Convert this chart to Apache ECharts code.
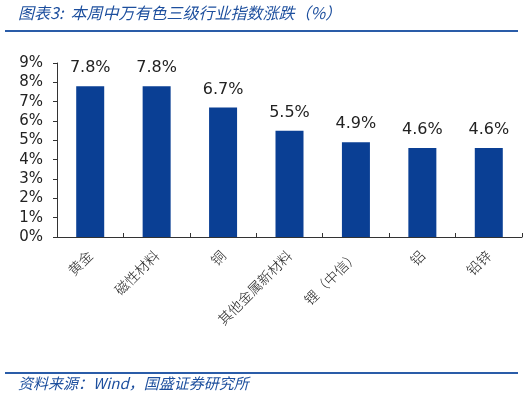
<!DOCTYPE html>
<html>
<head>
<meta charset="utf-8">
<script src="https://cdn.jsdelivr.net/npm/echarts@6/dist/echarts.min.js"></script>
<style>
  html, body { margin: 0; padding: 0; background: #fff; }
  #chart { width: 526px; height: 398px; }
</style>
</head>
<body>
<div id="chart"></div>
<script>
// 行业名称
var categories = ['黄金', '磁性材料', '铜', '其他金属新材料', '锂（中信）', '铝', '铅锌']
// 涨跌幅 %
var values = [7.8, 7.8, 6.7, 5.5, 4.9, 4.6, 4.6]
var titleText = '图表3:  本周中万有色三级行业指数涨跌（%）'
var sourceText = '资料来源：Wind，国盛证券研究所'

var blue = '#0a3f94'
var chart = echarts.init(document.getElementById('chart'))
chart.setOption({
  animation: false,
  grid: { left: 57, right: 4, top: 63, bottom: 161 },
  graphic: [
    {
      type: 'text', left: 18, top: 5,
      style: { text: titleText, fill: '#1d4f9e', font: 'italic 16px "Noto Sans CJK SC"' }
    },
    {
      type: 'rect', shape: { x: 5, y: 30, width: 513, height: 2 },
      style: { fill: '#2a5ca8' }
    },
    {
      type: 'rect', shape: { x: 5, y: 372, width: 513, height: 2 },
      style: { fill: '#2a5ca8' }
    },
    {
      type: 'text', left: 18, top: 376,
      style: { text: sourceText, fill: '#1d4f9e', font: 'italic 15px "Noto Sans CJK SC"' }
    }
  ],
  xAxis: {
    type: 'category',
    data: categories,
    axisLine: { lineStyle: { color: '#333', width: 1 } },
    axisTick: { show: true, length: 4, inside: true, lineStyle: { color: '#333' } },
    axisLabel: {
      interval: 0, rotate: 45, margin: 16,
      fontFamily: 'Noto Sans CJK SC', fontWeight: 300, fontSize: 14, color: '#222'
    }
  },
  yAxis: {
    type: 'value',
    min: 0, max: 9, interval: 1,
    splitLine: { show: false },
    axisLine: { show: true, lineStyle: { color: '#333' } },
    axisTick: { show: true, inside: false, length: 4, lineStyle: { color: '#333' } },
    axisLabel: {
      formatter: '{value}%', margin: 14,
      fontFamily: 'DejaVu Sans', fontSize: 15, color: '#222'
    }
  },
  series: [{
    type: 'bar',
    data: values,
    barWidth: 28,
    itemStyle: { color: blue },
    label: {
      show: true, position: 'top', distance: 10,
      formatter: function (p) { return p.value.toFixed(1) + '%' },
      fontFamily: 'DejaVu Sans', fontSize: 16, color: '#222'
    }
  }]
})
</script>
</body>
</html>
